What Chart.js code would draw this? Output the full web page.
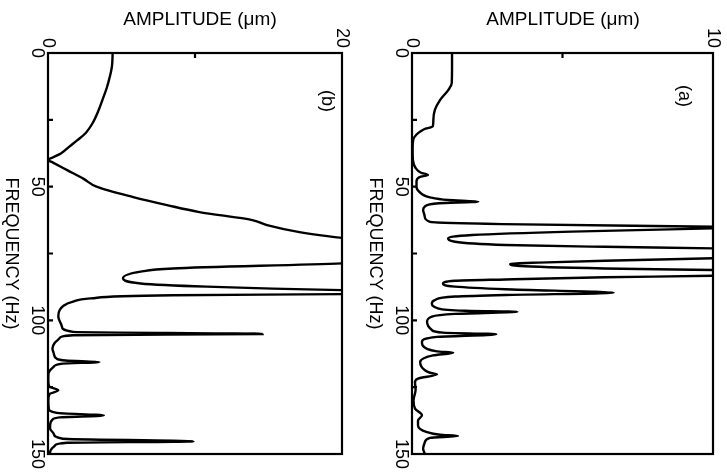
<!DOCTYPE html>
<html>
<head>
<meta charset="utf-8">
<script src="https://cdn.jsdelivr.net/npm/chart.js@4.4.1/dist/chart.umd.min.js"></script>
<style>
    body { margin: 0; background: #fff; }
    #wrap { position: relative; width: 727px; height: 472px; }
    canvas { position: absolute; top: 0; }
</style>
</head>
<body>
<div id="wrap">
    <canvas id="chartB" width="364" height="472" style="left:0"></canvas>
    <canvas id="chartA" width="363" height="472" style="left:364px"></canvas>
</div>
<script>
// Panel (b), left: amplitude (um) against frequency (Hz)
const freqB = [0, 5, 9, 13, 17.6, 22, 26, 30, 32.6, 35, 37.5, 39, 40, 41, 43.8, 47, 50, 53.9, 56.9, 59.5,
    62.5, 64.4, 67, 68.5, 70, 72, 74, 76, 78, 78.7, 80.6, 81.8, 84.3, 86.2, 87.4, 88.7, 89.5, 90.2, 90.6,
    91.8, 93, 96.1, 98.6, 102.4, 104.3, 105.1, 105.6, 106.6, 108.5, 110.5, 112.5, 114.4, 115.0, 115.6,
    116.2, 117.5, 119, 120.6, 123, 124.8, 126.2, 127.6, 130, 133, 134.6, 135.6, 136.3, 137.2, 138.8,
    140.5, 142.5, 144.3, 145.3, 145.8, 146.8, 148, 149.3, 150];
const ampB = [4.4, 4.35, 4.2, 4.0, 3.7, 3.4, 3.06, 2.55, 2.0, 1.45, 0.9, 0.36, 0, 0.34, 1.3, 2.4, 3.3, 5.8, 8.1, 10.3,
    13.9, 14.9, 17.1, 19.0, 21.5, 26, 29, 27, 22, 20, 8.5, 6.3, 5.1, 6.3, 10.8, 20, 30, 20, 8.5,
    2.9, 1.7, 0.8, 0.7, 0.95, 1.7, 14.6, 1.7, 0.8, 0.45, 0.3, 0.4, 0.6, 1.2, 3.5,
    1.0, 0.36, 0.1, 0.02, 0.02, 0.1, 0.7, 0.1, 0.02, 0.05, 0.6, 3.8, 0.8, 0.3, 0.15,
    0.14, 0.4, 1.0, 9.9, 1.3, 0.48, 0.25, 0.14, 0.14];

// Panel (a), right
const freqA = [0, 5, 11.3, 13.8, 17.6, 21.3, 25, 27.5, 28.3, 29.2, 30.5, 32.5, 36, 40, 43, 44.8, 45.6, 46.4,
    48, 50, 52, 54, 55.0, 55.6, 56.2, 57.5, 58.7, 61, 63.2, 64.0, 65.0, 65.3, 65.6, 66.8, 68.1, 69.3, 70.6,
    71.8, 72.5, 73.1, 74.5, 75.5, 76.8, 77.7, 78.4, 78.9, 79.7, 80.6, 81.2, 82.2, 83.3, 83.9, 84.7, 85.2,
    86.2, 87.4, 88.4, 89.7, 90.5, 91.1, 92.4, 93.6, 95.5, 96.4, 96.8, 97.6, 98.6, 100.6, 103.6, 104.6,
    105.2, 106.2, 108, 110.7, 111.6, 112.1, 113.1, 115.6, 118.7, 119.6, 120.2, 121.8, 123.1, 126, 130,
    133, 135.5, 137.5, 139.3, 141.8, 142.8, 143.3, 144, 145.5, 148, 150];
const ampA = [1.33, 1.33, 1.32, 1.21, 0.93, 0.76, 0.71, 0.69, 0.45, 0.3, 0.15, 0.04, 0.02, 0.03, 0.12, 0.3, 0.53, 0.25,
    0.15, 0.15, 0.25, 0.6, 1.2, 2.2, 0.9, 0.42, 0.37, 0.42, 0.6, 3.0, 10, 12, 10, 5.3, 2.0, 1.2, 1.43,
    3.1, 6.4, 10, 15, 15, 10, 6.4, 4.2, 3.26, 3.6, 6.4, 10, 11.5, 10, 6.4, 3.1, 1.43,
    1.03, 1.43, 3.1, 6.7, 3.1, 1.43, 0.76, 0.66, 0.86, 1.76, 3.5, 1.43, 0.66, 0.5, 0.66, 1.03,
    2.8, 0.83, 0.33, 0.5, 0.83, 1.37, 0.7, 0.27, 0.43, 0.6, 0.83, 0.2, 0.1, 0.12, 0.05,
    0.1, 0.33, 0.2, 0.2, 0.5, 0.93, 1.53, 0.6, 0.43, 0.37, 0.43];

const freqLabels = [0, 50, 100, 150];
const freqMinor = [25, 50, 75, 100, 125];

const FONT = '18px "Liberation Sans", Arial, sans-serif';

function rotText(ctx, text, x, y, align) {
    ctx.save();
    ctx.translate(x, y);
    ctx.rotate(Math.PI / 2);
    ctx.textAlign = align;
    ctx.textBaseline = 'middle';
    ctx.fillText(text, 0, 0);
    ctx.restore();
}

// frame, inward ticks and rotated labels, placed through the chart scales
const framePlugin = {
    id: 'frame',
    afterDraw(chart, args, opts) {
        const { ctx, chartArea: a } = chart;
        const xs = chart.scales.x, ys = chart.scales.y;
        ctx.save();
        ctx.strokeStyle = '#000';
        ctx.fillStyle = '#000';
        ctx.lineWidth = 2.2;
        ctx.strokeRect(a.left, a.top, a.right - a.left, a.bottom - a.top);

        // frequency ticks on the left border
        ctx.beginPath();
        freqMinor.forEach(f => {
            const py = ys.getPixelForValue(f);
            ctx.moveTo(a.left, py);
            ctx.lineTo(a.left + 5, py);
        });
        // amplitude middle tick on the top border
        const mx = xs.getPixelForValue(opts.ampMax / 2);
        ctx.moveTo(mx, a.top);
        ctx.lineTo(mx, a.top + 5);
        ctx.stroke();

        ctx.font = FONT;
        freqLabels.forEach(f => {
            rotText(ctx, String(f), a.left - 11, ys.getPixelForValue(f), 'center');
        });
        [0, opts.ampMax].forEach(v => {
            rotText(ctx, String(v), xs.getPixelForValue(v), a.top - 5, 'right');
        });

        rotText(ctx, 'FREQUENCY (Hz)', a.left - 37, (a.top + a.bottom) / 2, 'center');
        rotText(ctx, opts.panel, opts.panelX, opts.panelY, 'center');

        ctx.font = '19px "Liberation Sans", Arial, sans-serif';
        ctx.textAlign = 'center';
        ctx.textBaseline = 'alphabetic';
        ctx.fillText('AMPLITUDE (\u03bcm)', opts.titleX, 25);
        ctx.restore();
    }
};

function makeChart(id, freq, amp, ampMax, padRight, frameOpts) {
    return new Chart(document.getElementById(id), {
        type: 'line',
        data: {
            datasets: [{
                data: freq.map((f, i) => ({ x: amp[i], y: f })),
                borderColor: '#000',
                borderWidth: 2.4,
                pointRadius: 0,
                fill: false,
                cubicInterpolationMode: 'monotone'
            }]
        },
        options: {
            indexAxis: 'y',
            responsive: false,
            animation: false,
            events: [],
            layout: { padding: { left: 48, right: padRight, top: 53, bottom: 18 } },
            plugins: {
                legend: { display: false },
                tooltip: { enabled: false },
                frame: Object.assign({ ampMax: ampMax }, frameOpts)
            },
            scales: {
                x: { type: 'linear', min: 0, max: ampMax, display: false },
                y: { type: 'linear', min: 0, max: 150, reverse: true, display: false }
            }
        },
        plugins: [framePlugin]
    });
}

makeChart('chartB', freqB, ampB, 20, 22, { panel: '(b)', panelX: 327, panelY: 101, titleX: 200 });
makeChart('chartA', freqA, ampA, 10, 14, { panel: '(a)', panelX: 320, panelY: 96, titleX: 199 });
</script>
</body>
</html>
